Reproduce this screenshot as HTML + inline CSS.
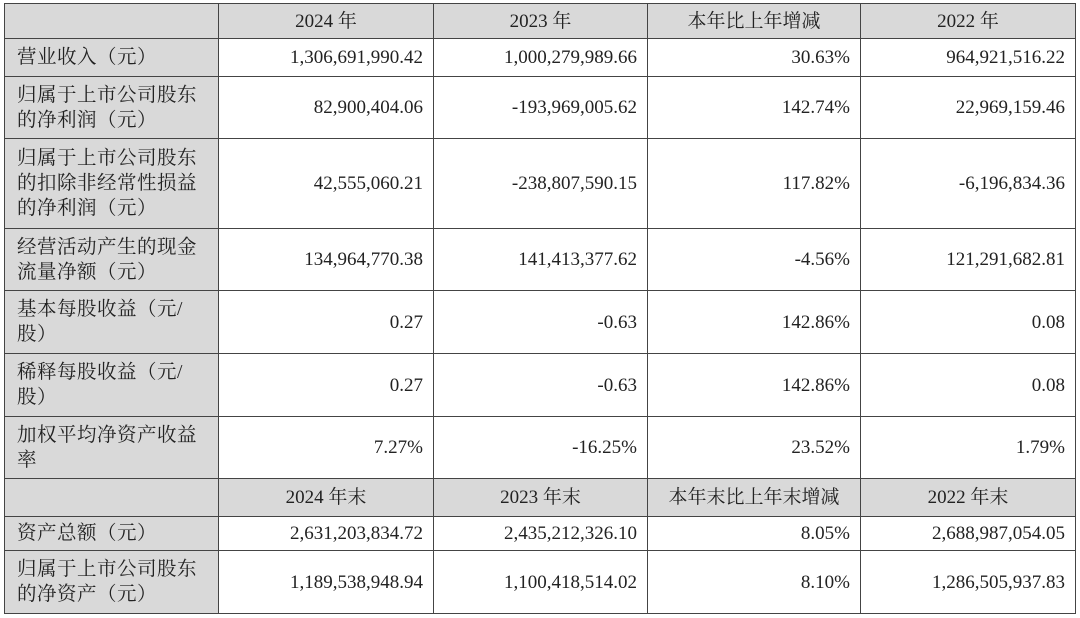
<!DOCTYPE html>
<html><head><meta charset="utf-8"><style>
body{margin:0;background:#fff;width:1080px;height:618px;overflow:hidden}
table{position:absolute;left:4px;top:3px;border-collapse:collapse;table-layout:fixed;font-family:"Liberation Serif","Noto Serif CJK SC",serif;font-size:19px;color:#222}
td{border:1px solid #444;padding:0 10px;line-height:25px;text-align:right;overflow:hidden}
td.l{text-align:left;background:#d9d9d9;padding-left:12px;padding-right:0;white-space:nowrap;letter-spacing:0.5px;font-size:19.5px}
tr.h td{background:#d9d9d9;text-align:center}
</style></head><body>
<table>
<colgroup><col style="width:214px"><col style="width:215px"><col style="width:214px"><col style="width:213px"><col style="width:215px"></colgroup>
<tr class="h" style="height:35px"><td></td><td>2024 年</td><td>2023 年</td><td>本年比上年增减</td><td>2022 年</td></tr>
<tr style="height:38px"><td class="l">营业收入（元）</td><td>1,306,691,990.42</td><td>1,000,279,989.66</td><td>30.63%</td><td>964,921,516.22</td></tr>
<tr style="height:62px"><td class="l">归属于上市公司股东<br>的净利润（元）</td><td>82,900,404.06</td><td>-193,969,005.62</td><td>142.74%</td><td>22,969,159.46</td></tr>
<tr style="height:90px"><td class="l">归属于上市公司股东<br>的扣除非经常性损益<br>的净利润（元）</td><td>42,555,060.21</td><td>-238,807,590.15</td><td>117.82%</td><td>-6,196,834.36</td></tr>
<tr style="height:62px"><td class="l">经营活动产生的现金<br>流量净额（元）</td><td>134,964,770.38</td><td>141,413,377.62</td><td>-4.56%</td><td>121,291,682.81</td></tr>
<tr style="height:63px"><td class="l">基本每股收益（元/<br>股）</td><td>0.27</td><td>-0.63</td><td>142.86%</td><td>0.08</td></tr>
<tr style="height:63px"><td class="l">稀释每股收益（元/<br>股）</td><td>0.27</td><td>-0.63</td><td>142.86%</td><td>0.08</td></tr>
<tr style="height:62px"><td class="l">加权平均净资产收益<br>率</td><td>7.27%</td><td>-16.25%</td><td>23.52%</td><td>1.79%</td></tr>
<tr class="h" style="height:38px"><td></td><td>2024 年末</td><td>2023 年末</td><td>本年末比上年末增减</td><td>2022 年末</td></tr>
<tr style="height:34px"><td class="l">资产总额（元）</td><td>2,631,203,834.72</td><td>2,435,212,326.10</td><td>8.05%</td><td>2,688,987,054.05</td></tr>
<tr style="height:63px"><td class="l">归属于上市公司股东<br>的净资产（元）</td><td>1,189,538,948.94</td><td>1,100,418,514.02</td><td>8.10%</td><td>1,286,505,937.83</td></tr>
</table>
</body></html>
